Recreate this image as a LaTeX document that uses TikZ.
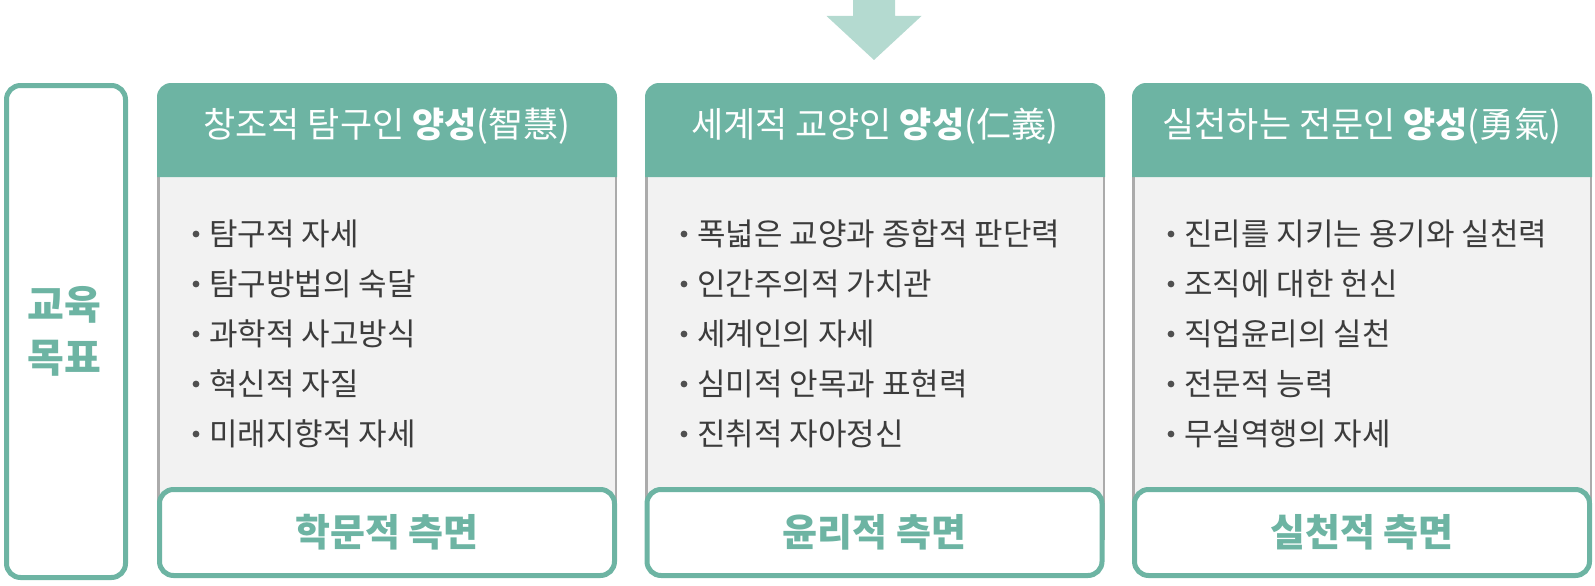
\documentclass[tikz,border=0pt]{standalone}
\usepackage{fontspec}
\setmainfont{Noto Sans CJK KR}
\definecolor{tealc}{HTML}{6DB4A3}
\definecolor{arrowc}{HTML}{B4DAD0}
\definecolor{bodyfill}{HTML}{F2F2F2}
\definecolor{sidegray}{HTML}{ABABAB}
\definecolor{txtc}{HTML}{3C3C3C}
\tikzset{
  headtxt/.style={anchor=base, inner sep=0pt, text=white, font=\fontsize{35}{42}\selectfont},
  itemtxt/.style={anchor=base west, inner sep=0pt, text=txtc, font=\fontsize{31}{37}\selectfont},
  bulletdot/.style={fill=txtc!90},
  botbox/.style={draw=tealc, line width=5pt, rounded corners=14pt, fill=white,
    minimum width=455pt, minimum height=86pt, inner sep=0pt,
    text=tealc, font=\bfseries\fontsize{38}{46}\selectfont},
  goalbox/.style={draw=tealc, line width=5pt, rounded corners=14pt, fill=white,
    minimum width=119pt, minimum height=492pt, inner sep=0pt},
  goaltxt/.style={align=center, inner sep=0pt, text=tealc, font=\bfseries\fontsize{40}{53}\selectfont}
}
\begin{document}
\begin{tikzpicture}[x=1pt,y=-1pt]
\useasboundingbox (0,0) rectangle (1595,586);
% top arrow
\fill[arrowc] (853,0) -- (895,0) -- (895,16) -- (921.5,16) -- (874,60) -- (826.5,16) -- (853,16) -- cycle;
% left goal box
\node[goalbox] (goal) at (66,331.5) {};
\node[goaltxt] (goaltext) at (64,331) {교육\\목표};
% columns
\foreach \L/\n in {157/1, 645/2, 1132/3}{
  \pgfmathsetmacro{\R}{\L+460}
  \fill[bodyfill] (\L,177) rectangle (\R,540);
  \draw[sidegray, line width=2.5pt] (\L+1.25,177) -- (\L+1.25,540);
  \draw[sidegray, line width=2.5pt] (\R-1.25,177) -- (\R-1.25,540);
  \fill[tealc] (\L,177) [rounded corners=14pt] -- (\L,83) -- (\R,83) [sharp corners] -- (\R,177) -- cycle;
  \foreach \i in {0,...,4}{
    \fill[bulletdot] (\L+39,234+50*\i) circle (3.4pt);
  }
}
% headers
\node[headtxt] (h1) at (387,137) {창조적 탐구인 \textbf{양성}(智慧)};
\node[headtxt] (h2) at (874.5,137) {세계적 교양인 \textbf{양성}(仁義)};
\node[headtxt] (h3) at (1362,137) {실천하는 전문인 \textbf{양성}(勇氣)};
% column 1 items
\node[itemtxt] (a1) at (209,245) {탐구적 자세};
\node[itemtxt] (a2) at (209,295) {탐구방법의 숙달};
\node[itemtxt] (a3) at (209,345) {과학적 사고방식};
\node[itemtxt] (a4) at (209,395) {혁신적 자질};
\node[itemtxt] (a5) at (209,445) {미래지향적 자세};
% column 2 items
\node[itemtxt] (b1) at (697,245) {폭넓은 교양과 종합적 판단력};
\node[itemtxt] (b2) at (697,295) {인간주의적 가치관};
\node[itemtxt] (b3) at (697,345) {세계인의 자세};
\node[itemtxt] (b4) at (697,395) {심미적 안목과 표현력};
\node[itemtxt] (b5) at (697,445) {진취적 자아정신};
% column 3 items
\node[itemtxt] (c1) at (1184,245) {진리를 지키는 용기와 실천력};
\node[itemtxt] (c2) at (1184,295) {조직에 대한 헌신};
\node[itemtxt] (c3) at (1184,345) {직업윤리의 실천};
\node[itemtxt] (c4) at (1184,395) {전문적 능력};
\node[itemtxt] (c5) at (1184,445) {무실역행의 자세};
% bottom boxes
\node[botbox] (f1) at (387,532.5) {학문적 측면};
\node[botbox] (f2) at (874.5,532.5) {윤리적 측면};
\node[botbox] (f3) at (1362,532.5) {실천적 측면};
\end{tikzpicture}
\end{document}
